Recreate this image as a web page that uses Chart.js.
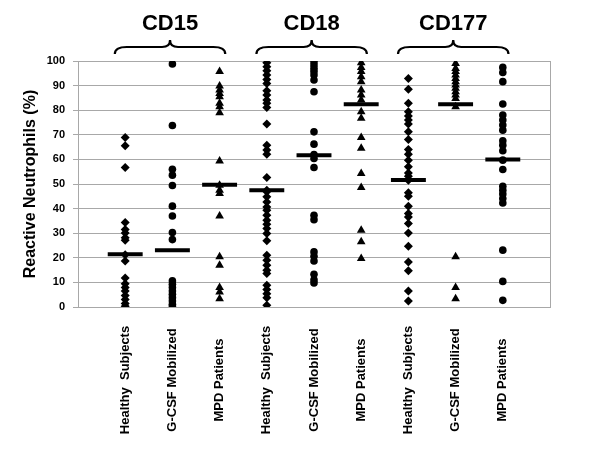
<!DOCTYPE html>
<html>
<head>
<meta charset="utf-8">
<script src="https://cdn.jsdelivr.net/npm/chart.js@4"></script>
<style>
html,body{margin:0;padding:0;background:#fff;}
#wrap{width:600px;height:450px;position:relative;}
</style>
</head>
<body>
<div id="wrap"><canvas id="c" width="600" height="450"></canvas></div>
<script>
// ---- data ----
const categories = ['Healthy  Subjects','G-CSF Mobilized','MPD Patients',
                    'Healthy  Subjects','G-CSF Mobilized','MPD Patients',
                    'Healthy  Subjects','G-CSF Mobilized','MPD Patients'];
const panels = ['CD15','CD18','CD177'];
const markers = ['rectRot','circle','triangle','rectRot','circle','triangle','rectRot','triangle','circle'];
const yTicks = [0,10,20,30,40,50,60,70,80,90,100];

const cd15Healthy = [68.9,65.5,56.7,34.3,31.5,30.1,28.2,27.1,21.2,18.7,11.8,9.5,7.9,6.5,4.7,3.0,1.4,0.3];
const cd15Gcsf    = [98.8,73.8,56.0,53.6,49.4,41.0,37.0,30.3,27.4,10.6,9.2,7.9,6.5,5.2,3.8,2.4,1.1,0.3];
const cd15Mpd     = [95.7,89.8,88.2,86.8,85.5,82.8,81.4,79.0,59.3,49.5,47.5,46.1,37.0,20.4,17.0,7.9,6.1,3.4];
const cd18Healthy = [99.3,97.7,96.0,94.3,92.5,90.9,87.9,86.2,84.1,82.8,81.1,74.4,65.8,63.8,62.1,52.6,47.5,46.8,44.8,42.7,40.7,39.3,37.3,35.3,33.6,31.9,29.9,26.9,21.0,19.0,17.0,14.9,13.6,8.8,7.1,5.4,3.8,0.7];
const cd18Gcsf    = [99.7,98.4,97.0,95.7,94.3,92.3,87.5,71.2,66.2,62.0,60.4,56.7,37.3,35.5,22.4,20.6,18.7,13.3,11.1,9.8];
const cd18Mpd     = [99.3,97.4,95.7,93.6,91.6,88.2,86.2,84.1,79.4,76.7,68.9,64.5,54.3,48.6,31.2,26.5,19.7];
const cd177Healthy= [92.9,88.5,82.8,79.4,77.6,76.0,74.4,71.2,68.1,64.0,62.1,59.7,57.0,54.5,53.2,51.5,46.4,45.0,41.0,38.0,36.6,33.9,30.1,24.7,18.3,14.7,6.5,2.4];
const cd177Gcsf   = [99.0,97.0,95.7,94.3,92.9,91.6,90.2,88.9,87.5,86.2,84.8,81.4,20.4,7.9,3.4];
const cd177Mpd    = [97.4,95.3,91.6,82.5,78.0,76.0,74.0,71.9,67.6,65.8,63.5,59.7,55.9,49.1,47.5,45.9,44.1,42.3,23.1,10.4,2.7];

const groups = [cd15Healthy,cd15Gcsf,cd15Mpd,cd18Healthy,cd18Gcsf,cd18Mpd,cd177Healthy,cd177Gcsf,cd177Mpd];
const medians = [21.4,23.1,49.7,47.5,61.7,82.4,51.6,82.4,60.0];

// ---- build datasets ----
const radii = {rectRot:4.5, circle:3.8, triangle:5};
const datasets = groups.map((vals,i)=>({
  type:'scatter',
  label:categories[i],
  data:vals.map(v=>({x:i+1,y:v})),
  pointStyle:markers[i],
  pointRadius:radii[markers[i]],
  pointHoverRadius:radii[markers[i]],
  backgroundColor:'#000',
  borderColor:'#000',
  borderWidth:0
}));
const medPts = [];
medians.forEach((m,i)=>{
  medPts.push({x:i+1-0.37,y:m},{x:i+1+0.37,y:m},{x:i+1,y:null});
});
datasets.push({
  type:'line',
  label:'median',
  data:medPts,
  borderColor:'#000',
  borderWidth:4,
  pointRadius:0,
  spanGaps:false,
  borderCapStyle:'butt'
});

const gray = '#a8a8a8';
const FONT = '"Liberation Sans", Arial, sans-serif';

const decor = {
  id:'decor',
  afterDraw(chart){
    const ctx = chart.ctx;
    const xs = chart.scales.x;
    ctx.save();
    // category labels
    ctx.fillStyle = '#000';
    ctx.font = 'bold 13px ' + FONT;
    ctx.textAlign = 'center';
    ctx.textBaseline = 'middle';
    categories.forEach((c,i)=>{
      const x = xs.getPixelForValue(i+1);
      ctx.save();
      ctx.translate(x, 380);
      ctx.rotate(-Math.PI/2);
      ctx.fillText(c,0,0);
      ctx.restore();
    });
    // braces and panel titles
    ctx.strokeStyle = '#000';
    ctx.lineWidth = 2.2;
    panels.forEach((p,k)=>{
      const x0 = xs.getPixelForValue(3*k+0.78);
      const x1 = xs.getPixelForValue(3*k+3.12);
      const xm = (x0+x1)/2;
      const yb = 47, ye = 54, yt = 40, r = 12, rm = 8;
      ctx.beginPath();
      ctx.moveTo(x0, ye);
      ctx.quadraticCurveTo(x0, yb, x0+r, yb);
      ctx.lineTo(xm-rm, yb);
      ctx.quadraticCurveTo(xm, yb, xm, yt);
      ctx.quadraticCurveTo(xm, yb, xm+rm, yb);
      ctx.lineTo(x1-r, yb);
      ctx.quadraticCurveTo(x1, yb, x1, ye);
      ctx.stroke();
      ctx.font = 'bold 22px ' + FONT;
      ctx.fillText(p, xm, 24);
    });
    ctx.restore();
  }
};

new Chart(document.getElementById('c'), {
  data:{datasets},
  options:{
    responsive:false,
    animation:false,
    layout:{padding:{left:0,top:61,right:50,bottom:143}},
    plugins:{legend:{display:false},tooltip:{enabled:false}},
    scales:{
      x:{
        type:'linear',min:0,max:10,
        ticks:{display:false,stepSize:1},
        grid:{drawTicks:false,color:c=>c.tick && c.tick.value===10 ? gray : 'rgba(0,0,0,0)',lineWidth:1},
        border:{color:gray,width:1},
        afterFit(s){s.height=0;}
      },
      y:{
        min:0,max:100,
        afterBuildTicks(s){s.ticks = yTicks.map(v=>({value:v}));},
        ticks:{color:'#000',font:{family:FONT,size:11,weight:'bold'},padding:8},
        grid:{color:gray,tickLength:5,lineWidth:1},
        border:{color:gray,width:1},
        title:{display:true,text:'Reactive Neutrophils (%)',color:'#000',
               font:{family:FONT,size:16,weight:'bold'},padding:{top:21,bottom:0}},
        afterFit(s){s.width=78;}
      }
    }
  },
  plugins:[decor]
});
</script>
</body>
</html>
